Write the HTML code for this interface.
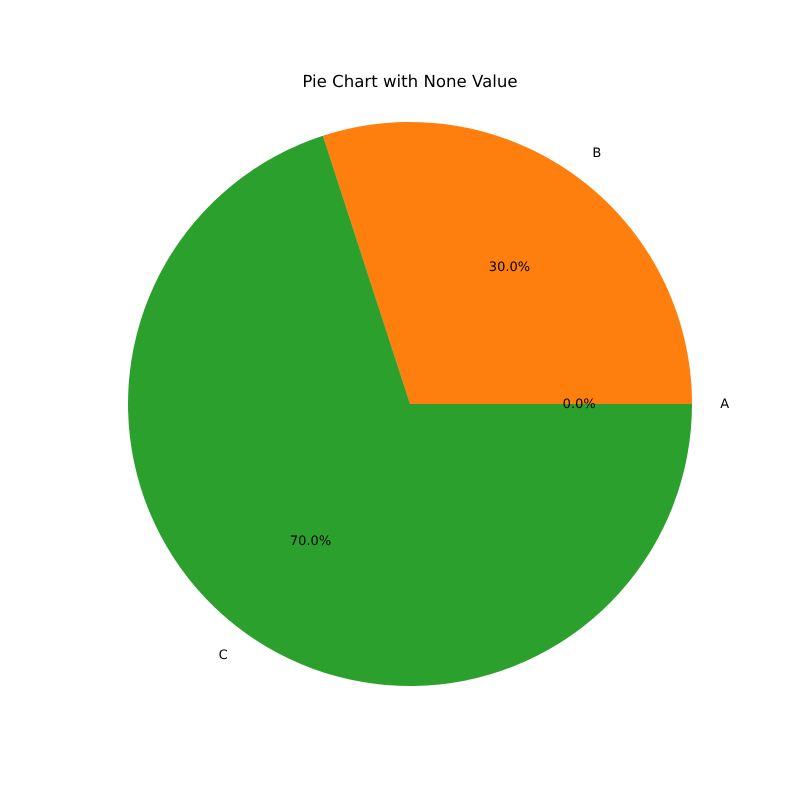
<!DOCTYPE html>
<html>
<head>
<meta charset="utf-8">
<style>
  html,body{margin:0;padding:0;background:#fff;}
  svg{display:block;}
  text{font-family:"DejaVu Sans","Liberation Sans",sans-serif;font-size:13px;fill:#000;text-rendering:geometricPrecision;}
</style>
</head>
<body>
<svg id="chart" width="800" height="800" viewBox="0 0 800 800">
  <rect width="800" height="800" fill="#fff"></rect>
  <text x="410" y="87" text-anchor="middle" style="font-size:16.6px">Pie Chart with None Value</text>
  <g id="slices"></g>
  <g id="labels"></g>
</svg>
<script>
const categories = ["A", "B", "C"];
const values = [0, 30, 70];
const colors = ["#1f77b4", "#ff7f0e", "#2ca02c"];

const cx = 410, cy = 404, r = 282;
const NS = "http://www.w3.org/2000/svg";
const total = values.reduce((a, b) => a + b, 0);
const slicesG = document.getElementById("slices");
const labelsG = document.getElementById("labels");

function pt(angleDeg, rad) {
  const a = angleDeg * Math.PI / 180;
  return [cx + rad * Math.cos(a), cy - rad * Math.sin(a)];
}

let start = 0;
values.forEach((v, i) => {
  const frac = total ? v / total : 0;
  const sweep = frac * 360;
  const end = start + sweep;
  if (sweep > 0) {
    let el;
    if (sweep >= 359.999) {
      el = document.createElementNS(NS, "circle");
      el.setAttribute("cx", cx); el.setAttribute("cy", cy); el.setAttribute("r", r);
    } else {
      const [x1, y1] = pt(start, r);
      const [x2, y2] = pt(end, r);
      const large = sweep > 180 ? 1 : 0;
      el = document.createElementNS(NS, "path");
      el.setAttribute("d", `M${cx},${cy} L${x1},${y1} A${r},${r} 0 ${large} 0 ${x2},${y2} Z`);
    }
    el.setAttribute("fill", colors[i % colors.length]);
    
    
    slicesG.appendChild(el);
  }
  const mid = start + sweep / 2;
  const [lx, ly] = pt(mid, r * 1.1);
  const lab = document.createElementNS(NS, "text");
  const c = Math.cos(mid * Math.PI / 180);
  lab.setAttribute("x", lx);
  lab.setAttribute("y", ly + 4);
  lab.setAttribute("text-anchor", c > 0.0001 ? "start" : (c < -0.0001 ? "end" : "middle"));
  lab.textContent = categories[i];
  
  
  labelsG.appendChild(lab);

  const [px, py] = pt(mid, r * 0.6);
  const pct = document.createElementNS(NS, "text");
  pct.setAttribute("x", px);
  pct.setAttribute("y", py + 4);
  pct.setAttribute("text-anchor", "middle");
  pct.textContent = (frac * 100).toFixed(1) + "%";
  
  
  labelsG.appendChild(pct);

  start = end;
});
</script>
</body>
</html>
